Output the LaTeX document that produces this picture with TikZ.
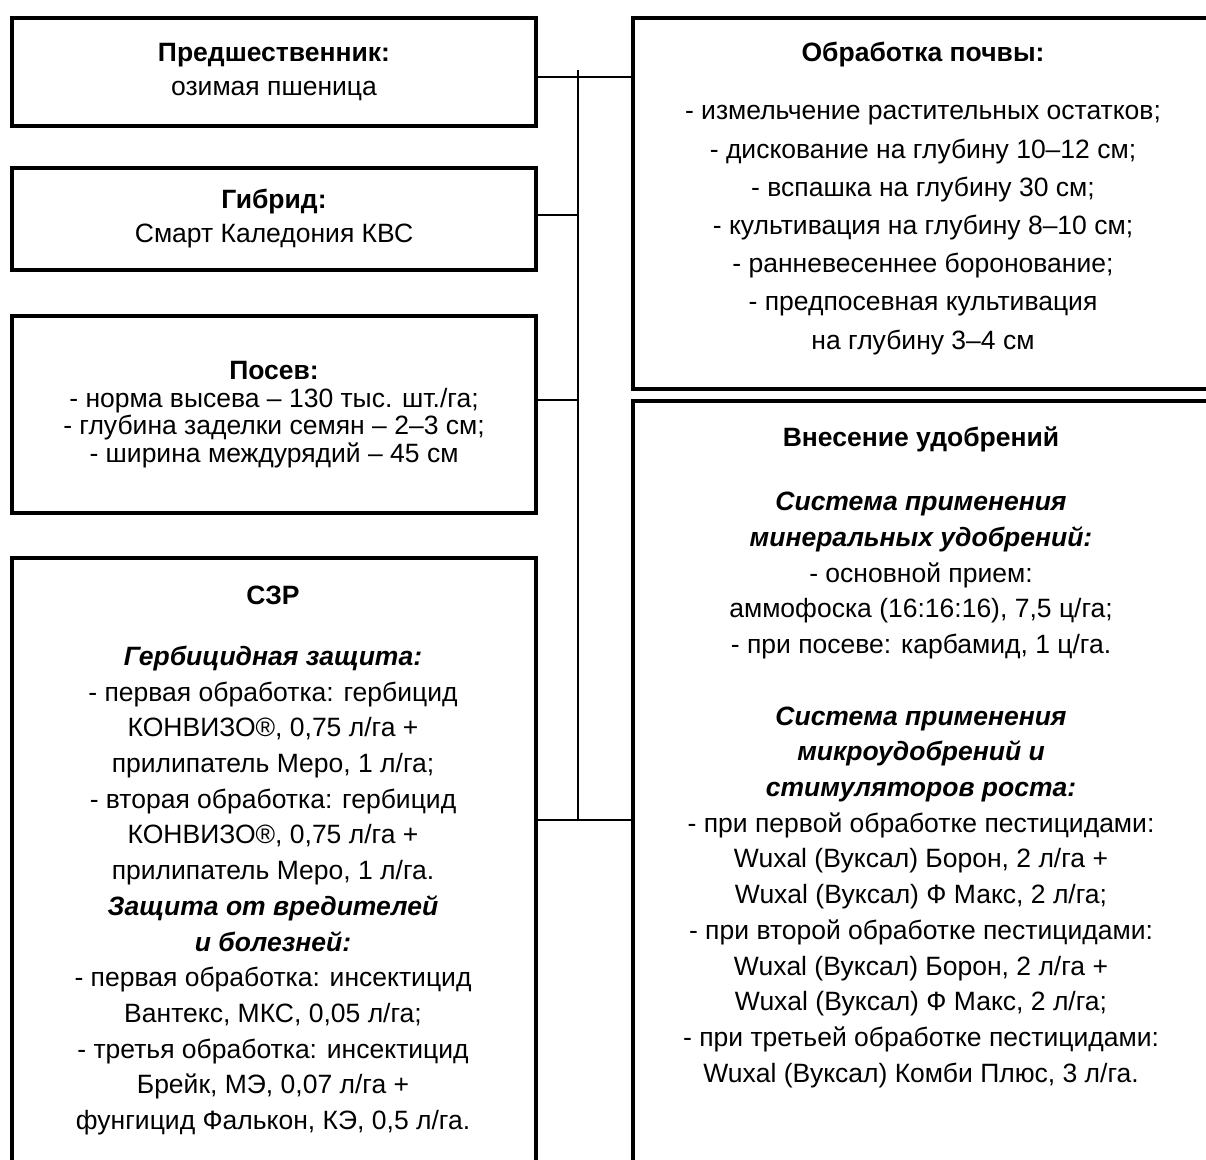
\documentclass[tikz,border=0pt]{standalone}
\usepackage{fontspec}
\setmainfont{Liberation Sans}

\tikzset{
  blok/.style={draw, line width=4pt, inner sep=0pt, anchor=north west},
  txt/.style={align=center, inner sep=0pt, font=\fontsize{26.5}{35.7}\selectfont},
  link/.style={line width=2.5pt}
}
\newcommand{\bi}[1]{\textbf{\textit{#1}}}

\begin{document}
\begin{tikzpicture}[x=1pt,y=-1pt]
    \useasboundingbox (0,0) rectangle (1206,1159);
    \clip (0,0) rectangle (1206,1159);

    % left column
    \node[blok, minimum width=524, minimum height=108, txt, font=\fontsize{26.5}{34}\selectfont] (pred) at (10,16)
        {\textbf{Предшественник:}\\озимая пшеница};
    \node[blok, minimum width=524, minimum height=102, txt, font=\fontsize{26.5}{34}\selectfont] (gibr) at (10,166)
        {\textbf{Гибрид:}\\Смарт Каледония КВС};
    \node[blok, minimum width=524, minimum height=197, txt, font=\fontsize{26.5}{27.5}\selectfont] (posev) at (10,314)
        {\textbf{Посев:}\\- норма высева – 130 тыс. шт./га;\\- глубина заделки семян – 2–3 см;\\- ширина междурядий – 45 см};
    \node[blok, minimum width=524, minimum height=700] (szr) at (10,556) {};

    % right column
    \node[blok, minimum width=640, minimum height=371] (obr) at (631,16) {};
    \node[blok, minimum width=640, minimum height=860] (udob) at (631,399) {};

    % texts of the big boxes
    \node[txt, anchor=north, font=\fontsize{26.5}{38.2}\selectfont] (obrtxt) at (923,42)
        {\textbf{Обработка почвы:}\\[20pt]
        - измельчение растительных остатков;\\
        - дискование на глубину 10–12 см;\\
        - вспашка на глубину 30 см;\\
        - культивация на глубину 8–10 см;\\
        - ранневесеннее боронование;\\
        - предпосевная культивация\\
        на глубину 3–4 см};
    \node[txt, anchor=north] (udobtxt) at (921,427)
        {\textbf{Внесение удобрений}\\[28pt]
        \bi{Система применения}\\
        \bi{минеральных удобрений:}\\
        - основной прием:\\
        аммофоска (16:16:16), 7,5 ц/га;\\
        - при посеве: карбамид, 1 ц/га.\\[36pt]
        \bi{Система применения}\\
        \bi{микроудобрений и}\\
        \bi{стимуляторов роста:}\\
        - при первой обработке пестицидами:\\
        Wuxal (Вуксал) Борон, 2 л/га +\\
        Wuxal (Вуксал) Ф Макс, 2 л/га;\\
        - при второй обработке пестицидами:\\
        Wuxal (Вуксал) Борон, 2 л/га +\\
        Wuxal (Вуксал) Ф Макс, 2 л/га;\\
        - при третьей обработке пестицидами:\\
        Wuxal (Вуксал) Комби Плюс, 3 л/га.};
    \node[txt, anchor=north] (szrtxt) at (273,586)
        {\textbf{СЗР}\\[25pt]
        \bi{Гербицидная защита:}\\
        - первая обработка: гербицид\\
        КОНВИЗО®, 0,75 л/га +\\
        прилипатель Меро, 1 л/га;\\
        - вторая обработка: гербицид\\
        КОНВИЗО®, 0,75 л/га +\\
        прилипатель Меро, 1 л/га.\\
        \bi{Защита от вредителей}\\
        \bi{и болезней:}\\
        - первая обработка: инсектицид\\
        Вантекс, МКС, 0,05 л/га;\\
        - третья обработка: инсектицид\\
        Брейк, МЭ, 0,07 л/га +\\
        фунгицид Фалькон, КЭ, 0,5 л/га.};

    % connectors
    \coordinate (top) at (578,70);
    \coordinate (c1) at (578,77);
    \coordinate (c2) at (578,215);
    \coordinate (c3) at (578,400);
    \coordinate (c4) at (578,820);
    \draw[link] (top) -- (c4);
    \draw[link] (c1 -| pred.east) -- (c1 -| obr.west);
    \draw[link] (c2 -| gibr.east) -- (c2);
    \draw[link] (c3 -| posev.east) -- (c3);
    \draw[link] (c4 -| szr.east) -- (c4 -| udob.west);
\end{tikzpicture}
\end{document}
